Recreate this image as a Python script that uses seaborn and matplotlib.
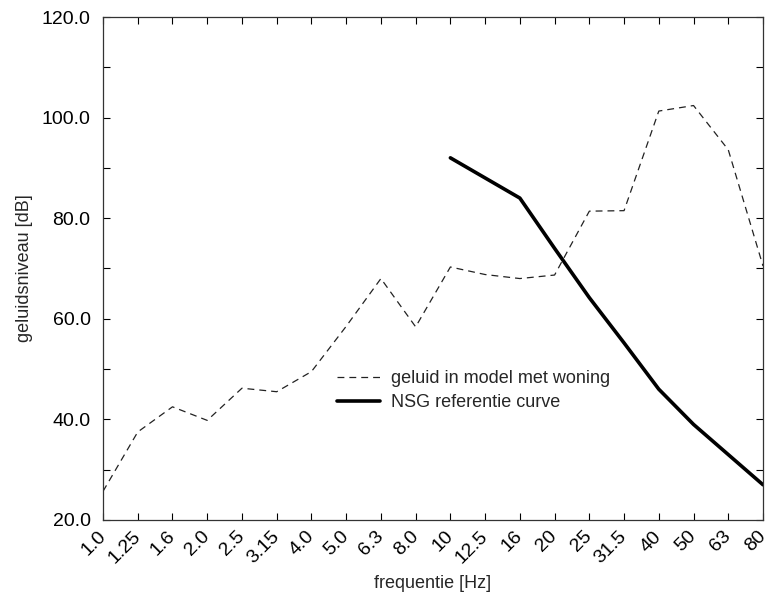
import matplotlib
matplotlib.use("Agg")
import matplotlib.pyplot as plt
from matplotlib.ticker import MultipleLocator, FormatStrFormatter
import numpy as np
import pandas as pd
import seaborn as sns

# third-octave band centres (Hz)
freq_labels = ["1.0", "1.25", "1.6", "2.0", "2.5", "3.15", "4.0", "5.0", "6.3", "8.0",
               "10", "12.5", "16", "20", "25", "31.5", "40", "50", "63", "80"]

# geluid in model met woning [dB]
model_level = [25.7, 37.5, 42.5, 39.8, 46.2, 45.5, 49.5, 58.5, 68.0, 58.4,
               70.3, 68.8, 68.0, 68.7, 81.4, 81.5, 101.3, 102.4, 93.6, 70.5]

# NSG referentie curve [dB], from 10 Hz on
nsg_labels = ["10", "12.5", "16", "20", "25", "31.5", "40", "50", "63", "80"]
nsg_level = [92.0, 88.0, 84.0, 74.0, 64.2, 55.2, 46.0, 39.0, 33.0, 27.0]

sns.set_style("ticks")
plt.rcParams["font.family"] = ["Liberation Sans", "DejaVu Sans"]

pos = {lab: i for i, lab in enumerate(freq_labels)}
df_model = pd.DataFrame({"x": [pos[l] for l in freq_labels], "y": model_level})
df_nsg = pd.DataFrame({"x": [pos[l] for l in nsg_labels], "y": nsg_level})

fig = plt.figure(figsize=(7.67, 6.01), dpi=100)
ax = fig.add_axes([0.1343, 0.1348, 0.8605, 0.8369])

sns.lineplot(data=df_model, x="x", y="y", ax=ax, color="#222222", linewidth=0.9,
             label="geluid in model met woning")
ax.lines[-1].set_dashes([5.5, 4])
sns.lineplot(data=df_nsg, x="x", y="y", ax=ax, color="black", linewidth=2.6,
             label="NSG referentie curve")

ax.set_xlim(0, len(freq_labels) - 1)
ax.set_ylim(20, 120)
ax.set_xticks(range(len(freq_labels)))
ax.set_xticklabels(freq_labels, rotation=45, ha="right", va="center",
                   rotation_mode="anchor")
ax.yaxis.set_major_locator(MultipleLocator(20))
ax.yaxis.set_minor_locator(MultipleLocator(10))
ax.yaxis.set_major_formatter(FormatStrFormatter("%.1f"))
ax.tick_params(axis="both", which="both", direction="in", top=True, right=True,
               length=5, width=0.8, labelsize=14, colors="black")
ax.tick_params(axis="x", pad=10)
ax.tick_params(axis="y", pad=9)
for s in ax.spines.values():
    s.set_linewidth(0.9)
    s.set_color("#333333")

ax.set_xlabel("frequentie [Hz]", fontsize=13, labelpad=6)
ax.set_ylabel("geluidsniveau [dB]", fontsize=13, labelpad=6)

ax.legend(loc="center left", bbox_to_anchor=(0.33, 0.257), frameon=False,
          fontsize=13, handlelength=2.4, handletextpad=0.6, labelspacing=0.4)

fig.savefig("out.png", dpi=100)
